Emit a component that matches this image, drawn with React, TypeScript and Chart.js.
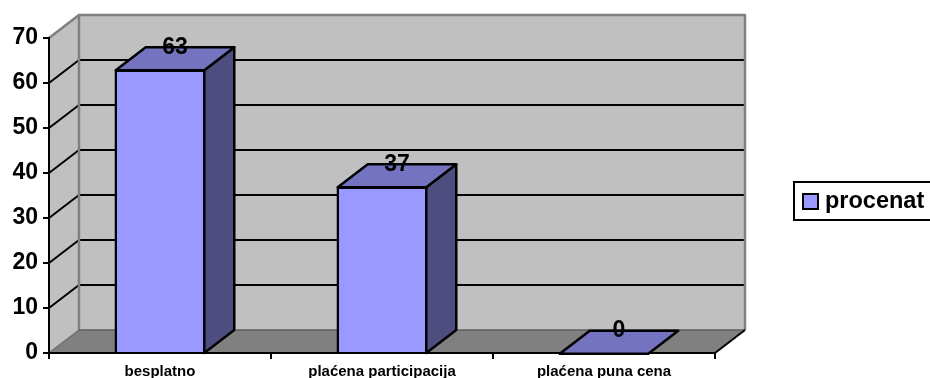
import React, { useEffect, useRef } from "react";
import { Chart, registerables } from "chart.js";

Chart.register(...registerables);

const categories = ["besplatno", "plaćena participacija", "plaćena puna cena"];
const seriesName = "procenat";
const values = [63, 37, 0];
const yMin = 0;
const yMax = 70;
const yStep = 10;

const FONT = '"Liberation Sans", Arial, sans-serif';
const DX = 30;
const DY = 23;
const BAR = "#9999FF";
const BAR_TOP = "#7373BF";
const BAR_SIDE = "#4D4D80";
const WALL = "#C0C0C0";
const FLOOR = "#808080";
const EDGE = "#808080";

function poly(ctx: CanvasRenderingContext2D, pts: number[][], fill: string | null, stroke: string | null, lw = 2) {
  ctx.beginPath();
  pts.forEach((p, i) => (i ? ctx.lineTo(p[0], p[1]) : ctx.moveTo(p[0], p[1])));
  ctx.closePath();
  if (fill) {
    ctx.fillStyle = fill;
    ctx.fill();
  }
  if (stroke) {
    ctx.strokeStyle = stroke;
    ctx.lineWidth = lw;
    ctx.lineJoin = "round";
    ctx.stroke();
  }
}

function seg(ctx: CanvasRenderingContext2D, x1: number, y1: number, x2: number, y2: number, color: string, lw = 2) {
  ctx.beginPath();
  ctx.moveTo(x1, y1);
  ctx.lineTo(x2, y2);
  ctx.strokeStyle = color;
  ctx.lineWidth = lw;
  ctx.stroke();
}

const walls3d = {
  id: "walls3d",
  beforeDraw(chart: any) {
    const { ctx, chartArea: a, scales } = chart;
    const y = scales.y;
    const top = y.getPixelForValue(yMax);
    const bottom = y.getPixelForValue(yMin);
    ctx.save();
    poly(ctx, [[a.left, bottom], [a.left + DX, bottom - DY], [a.left + DX, top - DY], [a.left, top]], WALL, null);
    poly(ctx, [[a.left + DX, bottom - DY], [a.right + DX, bottom - DY], [a.right + DX, top - DY], [a.left + DX, top - DY]], WALL, null);
    poly(ctx, [[a.left, bottom], [a.right, bottom], [a.right + DX, bottom - DY], [a.left + DX, bottom - DY]], FLOOR, null);
    for (let v = yMin + yStep; v < yMax; v += yStep) {
      const p = y.getPixelForValue(v);
      seg(ctx, a.left, p, a.left + DX, p - DY, "#000");
      seg(ctx, a.left + DX, p - DY, a.right + DX, p - DY, "#000");
    }
    seg(ctx, a.left, top, a.left + DX, top - DY, EDGE, 2.5);
    seg(ctx, a.left + DX - 1, top - DY, a.right + DX + 1, top - DY, EDGE, 2.5);
    seg(ctx, a.right + DX, top - DY, a.right + DX, bottom - DY, EDGE, 2.5);
    seg(ctx, a.left + DX, top - DY, a.left + DX, bottom - DY, EDGE, 2.5);
    seg(ctx, a.left, bottom, a.left + DX, bottom - DY, "#6e6e6e", 1.5);
    seg(ctx, a.left + DX, bottom - DY, a.right + DX, bottom - DY, "#5f5f5f", 1.5);
    seg(ctx, a.right, bottom, a.right + DX, bottom - DY, "#000");
    ctx.restore();
  },
  afterDatasetsDraw(chart: any) {
    const { ctx, scales } = chart;
    const y = scales.y;
    const base = y.getPixelForValue(0);
    ctx.save();
    chart.getDatasetMeta(0).data.forEach((bar: any, i: number) => {
      const l = bar.x - bar.width / 2 + 1.25;
      const r = bar.x + bar.width / 2 - 1.25;
      const t = y.getPixelForValue(values[i]) + 0.75;
      if (values[i] > 0) {
        poly(ctx, [[r, t], [r + DX, t - DY], [r + DX, base - DY], [r, base]], BAR_SIDE, "#000", 2.5);
      }
      poly(ctx, [[l, t], [l + DX, t - DY], [r + DX, t - DY], [r, t]], BAR_TOP, "#000", 2.5);
    });
    ctx.fillStyle = "#000";
    ctx.font = `bold 23px ${FONT}`;
    ctx.textAlign = "center";
    ctx.textBaseline = "middle";
    chart.getDatasetMeta(0).data.forEach((bar: any, i: number) => {
      ctx.fillText(String(values[i]), bar.x + DX / 2, y.getPixelForValue(values[i]) - DY + 1);
    });
    ctx.restore();
  },
  afterDraw(chart: any) {
    const { ctx } = chart;
    ctx.save();
    ctx.fillStyle = "#fff";
    ctx.strokeStyle = "#000";
    ctx.lineWidth = 2;
    ctx.fillRect(794, 182, 140, 38);
    ctx.strokeRect(794, 182, 140, 38);
    ctx.fillStyle = BAR;
    ctx.fillRect(803, 194, 15, 15);
    ctx.strokeRect(803, 194, 15, 15);
    ctx.fillStyle = "#000";
    ctx.font = `bold 23.5px ${FONT}`;
    ctx.textAlign = "left";
    ctx.textBaseline = "middle";
    ctx.fillText(seriesName, 825, 202);
    ctx.restore();
  },
};

export default function App() {
  const ref = useRef<HTMLCanvasElement>(null);
  useEffect(() => {
    if (!ref.current) return;
    const chart = new Chart(ref.current, {
      type: "bar",
      data: {
        labels: categories,
        datasets: [
          {
            label: seriesName,
            data: values,
            backgroundColor: BAR,
            borderColor: "#000",
            borderWidth: 2.5,
            barPercentage: 0.41,
            categoryPercentage: 1,
          },
        ],
      },
      options: {
        responsive: false,
        animation: false,
        layout: { autoPadding: false, padding: { top: 38, right: 215, left: 0, bottom: 0 } },
        plugins: { legend: { display: false }, tooltip: { enabled: false }, title: { display: false } },
        scales: {
          x: {
            afterFit: (s: any) => {
              s.height = 25;
            },
            grid: { drawOnChartArea: false, drawTicks: true, tickLength: 6, color: "#000", lineWidth: 2, offset: true },
            border: { color: "#000", width: 2 },
            ticks: { color: "#000", font: { family: FONT, size: 15, weight: "bold" }, padding: 4, maxRotation: 0, autoSkip: false },
          },
          y: {
            min: yMin,
            max: yMax,
            afterFit: (s: any) => {
              s.width = 49;
            },
            grid: { drawOnChartArea: false, drawTicks: true, tickLength: 6, color: "#000", lineWidth: 2 },
            border: { color: "#000", width: 2 },
            ticks: { stepSize: yStep, color: "#000", font: { family: FONT, size: 23, weight: "bold" }, padding: 5 },
          },
        },
      },
      plugins: [walls3d],
    } as any);
    return () => chart.destroy();
  }, []);
  return (
    <canvas
      ref={ref}
      width={930}
      height={378}
      style={{ position: "absolute", left: 0, top: 0, width: 930, height: 378, display: "block" }}
    />
  );
}
